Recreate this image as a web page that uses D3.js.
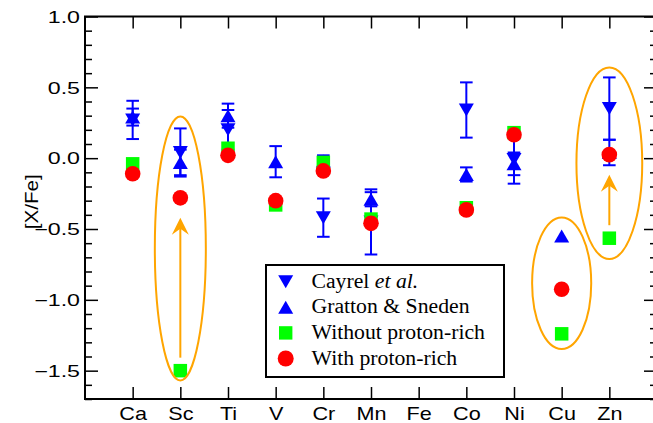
<!DOCTYPE html>
<html>
<head>
<meta charset="utf-8">
<script src="https://cdn.jsdelivr.net/npm/d3@7"></script>
<style>
  body { margin: 0; background: #fff; }
  svg { display: block; }
  .sans { font-family: "Liberation Sans", Arial, Helvetica, sans-serif; }
  .serif { font-family: "Liberation Serif", "Times New Roman", "DejaVu Serif", serif; }
</style>
</head>
<body>
<div id="chart"></div>
<script>
const elements = ["Ca", "Sc", "Ti", "V", "Cr", "Mn", "Fe", "Co", "Ni", "Cu", "Zn"];

// Cayrel et al. (down triangles) and Gratton & Sneden (up triangles), with errors
const cayrelVal = [0.27, 0.04, 0.20, null, -0.42, -0.45, null, 0.34, -0.01, null, 0.35];
const cayrelErr = [0.135, 0.17, 0.14, null, 0.135, 0.23, null, 0.195, 0.17, null, 0.22];
const grattonVal = [0.29, -0.03, 0.30, -0.025, -0.02, -0.29, null, -0.115, -0.04, -0.55, 0.04];
const grattonErr = [0.06, 0.09, 0.085, 0.11, 0.04, 0.05, null, 0.05, 0.08, 0, 0.09];

// model yields
const withoutPR = [-0.04, -1.50, 0.07, -0.33, -0.03, -0.43, null, -0.35, 0.18, -1.24, -0.565];
const withPR = [-0.11, -0.28, 0.02, -0.30, -0.09, -0.46, null, -0.365, 0.165, -0.925, 0.025];

// highlighted elements: [element, top value, bottom value, half width in x units]
const ellipses = [["Sc", 0.295, -1.569, 0.535], ["Cu", -0.418, -1.347, 0.62], ["Zn", 0.64, -0.712, 0.69]];
const arrows = ["Sc", "Zn"];

const yMajor = [-1.5, -1.0, -0.5, 0.0, 0.5, 1.0];
const yMinor = d3.range(-17, 11).map(d => d / 10).filter(d => Math.abs(d * 2 - Math.round(d * 2)) > 1e-6);

const legendItems = [
  { key: "cayrel", label: ["Cayrel ", "et al."] },
  { key: "gratton", label: ["Gratton & Sneden"] },
  { key: "without", label: ["Without proton-rich"] },
  { key: "with", label: ["With proton-rich"] }
];

const width = 653, height = 423;
const blue = "#0000ff", green = "#00ff00", red = "#ff0000", orange = "#ffa500";

const svg = d3.select("#chart").append("svg")
  .attr("width", width)
  .attr("height", height);

const x = d3.scaleLinear().domain([0, 12]).range([85, 657]);
const y = d3.scaleLinear().domain([-1.7, 1.0]).range([399, 16.5]);

const [x0, x1] = x.range();
const [y0, y1] = y.range();

function styleTicks(g) {
  g.select(".domain").remove();
  g.selectAll("line").attr("stroke", "#000").attr("stroke-width", 1.5);
}

// y axes (left with labels, right mirrored)
svg.append("g")
  .attr("transform", `translate(${x0},0)`)
  .call(d3.axisLeft(y).tickValues(yMinor).tickSize(-7).tickFormat(""))
  .call(styleTicks);

const yAxisG = svg.append("g")
  .attr("transform", `translate(${x0},0)`)
  .call(d3.axisLeft(y).tickValues(yMajor).tickSize(-13).tickFormat(d3.format(".1f")))
  .call(styleTicks);

yAxisG.attr("font-family", null).attr("font-size", null);
yAxisG.selectAll("text")
  .attr("class", "sans")
  .attr("x", null)
  .attr("dy", "0.36em")
  .attr("transform", "translate(-5,0) scale(1.45,1)")
  .style("font-size", "16px")
  .attr("fill", "#000");

svg.append("g")
  .attr("transform", `translate(${x1},0)`)
  .call(d3.axisRight(y).tickValues(yMinor).tickSize(-7).tickFormat(""))
  .call(styleTicks);

svg.append("g")
  .attr("transform", `translate(${x1},0)`)
  .call(d3.axisRight(y).tickValues(yMajor).tickSize(-13).tickFormat(""))
  .call(styleTicks);

// x axes
const xTicks = elements.map((d, i) => i + 1);

const xAxisG = svg.append("g")
  .attr("transform", `translate(0,${y0})`)
  .call(d3.axisBottom(x).tickValues(xTicks).tickSize(-12).tickFormat(i => elements[i - 1]))
  .call(styleTicks);

xAxisG.attr("font-family", null).attr("font-size", null);
xAxisG.selectAll("text")
  .attr("class", "sans")
  .attr("y", null)
  .attr("dy", null)
  .attr("transform", "translate(0,21) scale(1.2,1)")
  .style("font-size", "18px")
  .attr("fill", "#000");

svg.append("g")
  .attr("transform", `translate(0,${y1})`)
  .call(d3.axisTop(x).tickValues(xTicks).tickSize(-12).tickFormat(""))
  .call(styleTicks);

// frame
svg.append("rect")
  .attr("x", x0).attr("y", y1)
  .attr("width", x1 - x0).attr("height", y0 - y1)
  .attr("fill", "none")
  .attr("stroke", "#000")
  .attr("stroke-width", 2);

// y label
svg.append("text")
  .attr("class", "sans")
  .attr("transform", `translate(38,${(y0 + y1) / 2 - 6}) rotate(-90) scale(1.15,1)`)
  .attr("text-anchor", "middle")
  .style("font-size", "18px")
  .attr("fill", "#000")
  .text("[X/Fe]");

// markers
function triPath(cx, cy, dir) {
  const w = 7.5, h = 6.5;
  return dir < 0
    ? `M${cx - w},${cy - h}L${cx + w},${cy - h}L${cx},${cy + h}Z`
    : `M${cx - w},${cy + h}L${cx + w},${cy + h}L${cx},${cy - h}Z`;
}

function seriesData(vals, errs) {
  return vals.map((v, i) => ({ i: i + 1, v: v, e: errs ? errs[i] : 0 })).filter(d => d.v !== null);
}

const cayrel = seriesData(cayrelVal, cayrelErr);
const gratton = seriesData(grattonVal, grattonErr);

const errG = svg.append("g")
  .attr("stroke", blue)
  .attr("stroke-width", 2)
  .attr("fill", "none");

function drawErrors(data) {
  const capW = 6.3;
  data.filter(d => d.e > 0).forEach(d => {
    const cx = x(d.i);
    errG.append("line")
      .attr("x1", cx).attr("x2", cx)
      .attr("y1", y(d.v + d.e)).attr("y2", y(d.v - d.e));
    [d.v + d.e, d.v - d.e].forEach(c => {
      errG.append("line")
        .attr("x1", cx - capW).attr("x2", cx + capW)
        .attr("y1", y(c)).attr("y2", y(c));
    });
  });
}

drawErrors(cayrel);
drawErrors(gratton);

svg.append("g").selectAll("path")
  .data(cayrel)
  .join("path")
  .attr("d", d => triPath(x(d.i), y(d.v), -1))
  .attr("fill", blue);

svg.append("g").selectAll("path")
  .data(gratton)
  .join("path")
  .attr("d", d => triPath(x(d.i), y(d.v), 1))
  .attr("fill", blue);

const sq = 13.5;
svg.append("g").selectAll("rect")
  .data(seriesData(withoutPR))
  .join("rect")
  .attr("x", d => x(d.i) - sq / 2)
  .attr("y", d => y(d.v) - sq / 2)
  .attr("width", sq)
  .attr("height", sq)
  .attr("fill", green);

svg.append("g").selectAll("circle")
  .data(seriesData(withPR))
  .join("circle")
  .attr("cx", d => x(d.i))
  .attr("cy", d => y(d.v))
  .attr("r", 7.8)
  .attr("fill", red);

// ellipses
svg.append("g").selectAll("ellipse")
  .data(ellipses)
  .join("ellipse")
  .attr("cx", d => x(elements.indexOf(d[0]) + 1))
  .attr("cy", d => (y(d[1]) + y(d[2])) / 2)
  .attr("rx", d => x(d[3]) - x(0))
  .attr("ry", d => (y(d[2]) - y(d[1])) / 2)
  .attr("fill", "none")
  .attr("stroke", orange)
  .attr("stroke-width", 2);

// arrows from "without" to "with"
const arrowG = svg.append("g");
arrows.forEach(el => {
  const k = elements.indexOf(el);
  const cx = x(k + 1);
  const yFrom = y(withoutPR[k]) - 13;
  const yTip = y(withPR[k]) + 20;
  arrowG.append("line")
    .attr("x1", cx).attr("x2", cx)
    .attr("y1", yFrom).attr("y2", yTip + 10)
    .attr("stroke", orange)
    .attr("stroke-width", 2);
  arrowG.append("path")
    .attr("d", `M${cx},${yTip}L${cx - 8.5},${yTip + 17}L${cx},${yTip + 11}L${cx + 8.5},${yTip + 17}Z`)
    .attr("fill", orange);
});

// legend
const legend = svg.append("g");
legend.append("rect")
  .attr("x", 266).attr("y", 265)
  .attr("width", 238).attr("height", 112)
  .attr("fill", "#fff")
  .attr("stroke", "#000")
  .attr("stroke-width", 2);

const symX = 285.7, textX = 311.5, rowY0 = 287.7, rowH = 25.6;

legendItems.forEach((item, r) => {
  const by = rowY0 + r * rowH;
  const sy = by - 6;
  if (item.key === "cayrel") {
    legend.append("path").attr("d", triPath(symX, sy, -1)).attr("fill", blue);
  } else if (item.key === "gratton") {
    legend.append("path").attr("d", triPath(symX, sy, 1)).attr("fill", blue);
  } else if (item.key === "without") {
    legend.append("rect")
      .attr("x", symX - 6.7).attr("y", sy - 6.7)
      .attr("width", 13.4).attr("height", 13.4)
      .attr("fill", green);
  } else {
    legend.append("circle").attr("cx", symX).attr("cy", sy).attr("r", 8).attr("fill", red);
  }
  const t = legend.append("text")
    .attr("class", "serif")
    .attr("transform", `translate(${textX},${by}) scale(1.06,1)`)
    .style("font-size", "20.5px")
    .attr("fill", "#000");
  t.append("tspan").text(item.label[0]);
  if (item.label[1]) t.append("tspan").style("font-style", "italic").text(item.label[1]);
});
</script>
</body>
</html>
